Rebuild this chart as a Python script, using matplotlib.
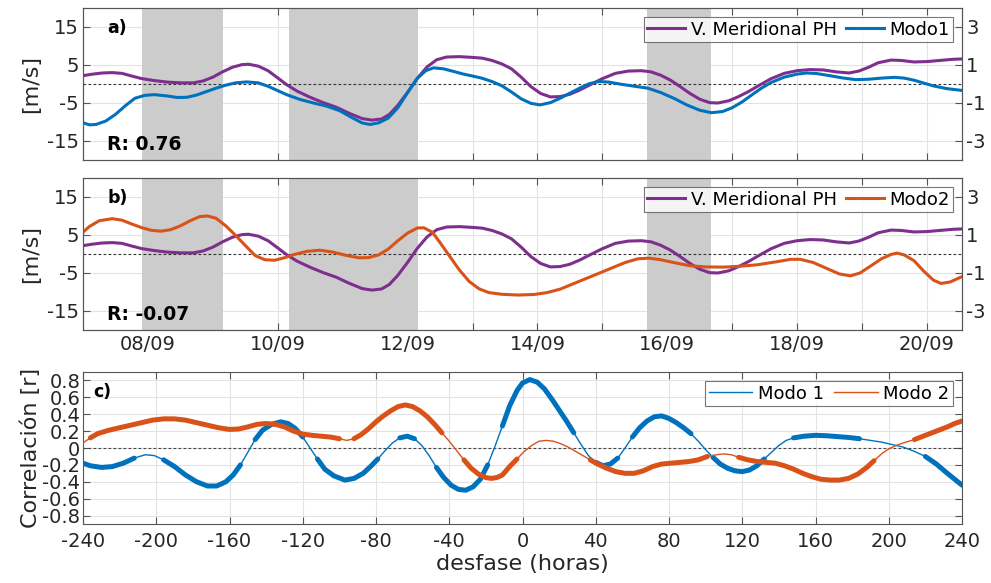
import matplotlib.pyplot as plt
import numpy as np

# --- series for panels a) and b): time in days of September ---
t_ph = [7.00, 7.15, 7.30, 7.45, 7.60, 7.75, 7.91, 8.10, 8.30, 8.50, 8.70, 8.85, 9.00, 9.15,
        9.30, 9.45, 9.55, 9.70, 9.85, 10.00, 10.13, 10.30, 10.50, 10.70, 10.90, 11.10, 11.30,
        11.45, 11.60, 11.72, 11.85, 12.00, 12.15, 12.30, 12.45, 12.60, 12.80, 13.00, 13.15,
        13.30, 13.45, 13.60, 13.75, 13.90, 14.05, 14.20, 14.35, 14.50, 14.65, 14.80, 15.00,
        15.20, 15.40, 15.60, 15.75, 15.90, 16.05, 16.20, 16.35, 16.50, 16.65, 16.78, 16.95,
        17.10, 17.25, 17.40, 17.60, 17.80, 18.00, 18.20, 18.40, 18.60, 18.80, 18.95, 19.10,
        19.25, 19.45, 19.60, 19.80, 20.00, 20.20, 20.40, 20.54]
v_ph = [2.2, 2.6, 2.9, 3.0, 2.8, 2.1, 1.4, 0.9, 0.5, 0.3, 0.3, 0.8, 1.8, 3.2,
        4.4, 5.1, 5.2, 4.7, 3.5, 1.6, -0.1, -1.9, -3.5, -4.9, -6.1, -7.7, -9.1,
        -9.5, -9.2, -8.0, -5.6, -2.2, 1.5, 4.5, 6.4, 7.1, 7.2, 7.0, 6.8,
        6.2, 5.3, 4.0, 1.8, -0.7, -2.5, -3.4, -3.3, -2.7, -1.6, -0.3, 1.4,
        2.8, 3.4, 3.5, 3.2, 2.3, 1.0, -0.7, -2.5, -4.0, -4.9, -5.0, -4.4,
        -3.3, -2.0, -0.5, 1.4, 2.8, 3.5, 3.8, 3.7, 3.2, 2.9, 3.4, 4.4,
        5.6, 6.3, 6.2, 5.8, 5.9, 6.2, 6.5, 6.6]

t_m1 = [7.00, 7.10, 7.20, 7.35, 7.50, 7.65, 7.80, 7.95, 8.10, 8.30, 8.45, 8.60, 8.75, 8.90,
        9.05, 9.20, 9.35, 9.52, 9.70, 9.85, 10.00, 10.15, 10.35, 10.55, 10.75, 10.95, 11.15,
        11.30, 11.42, 11.55, 11.70, 11.85, 12.00, 12.15, 12.28, 12.40, 12.55, 12.70, 12.85,
        13.00, 13.15, 13.30, 13.45, 13.60, 13.75, 13.90, 14.04, 14.20, 14.35, 14.50, 14.65,
        14.80, 14.95, 15.10, 15.30, 15.50, 15.70, 15.90, 16.10, 16.30, 16.50, 16.68, 16.85,
        17.00, 17.15, 17.30, 17.45, 17.60, 17.80, 18.00, 18.15, 18.30, 18.50, 18.70, 18.90,
        19.10, 19.30, 19.50, 19.65, 19.80, 19.95, 20.10, 20.30, 20.54]
v_m1 = [-2.04, -2.15, -2.13, -1.95, -1.60, -1.15, -0.75, -0.60, -0.56, -0.63, -0.71, -0.70,
        -0.58, -0.40, -0.22, -0.06, 0.06, 0.11, 0.06, -0.12, -0.35, -0.58, -0.82, -1.00,
        -1.16, -1.40, -1.78, -2.05, -2.13, -2.05, -1.80, -1.25, -0.45, 0.30, 0.70, 0.85,
        0.80, 0.67, 0.53, 0.42, 0.30, 0.13, -0.09, -0.42, -0.78, -1.02, -1.10, -0.98,
        -0.75, -0.48, -0.22, 0.02, 0.13, 0.10, -0.02, -0.12, -0.22, -0.45, -0.75, -1.10,
        -1.38, -1.51, -1.45, -1.25, -0.95, -0.58, -0.22, 0.08, 0.36, 0.52, 0.58, 0.55,
        0.44, 0.32, 0.23, 0.25, 0.31, 0.35, 0.31, 0.20, 0.05, -0.10, -0.24, -0.34]

t_m2 = [7.00, 7.10, 7.25, 7.45, 7.60, 7.75, 7.91, 8.05, 8.20, 8.35, 8.50, 8.65, 8.80, 8.92,
        9.05, 9.20, 9.35, 9.50, 9.65, 9.80, 9.95, 10.10, 10.25, 10.45, 10.65, 10.85, 11.05,
        11.25, 11.40, 11.55, 11.70, 11.85, 12.00, 12.15, 12.25, 12.38, 12.50, 12.65, 12.80,
        12.95, 13.10, 13.25, 13.45, 13.70, 13.95, 14.15, 14.35, 14.60, 14.85, 15.10, 15.35,
        15.55, 15.72, 15.90, 16.10, 16.35, 16.60, 16.86, 17.10, 17.38, 17.70, 17.90, 18.05,
        18.25, 18.45, 18.65, 18.82, 18.97, 19.12, 19.30, 19.45, 19.54, 19.65, 19.80, 19.95,
        20.10, 20.22, 20.36, 20.54]
v_m2 = [1.15, 1.45, 1.75, 1.86, 1.78, 1.58, 1.38, 1.25, 1.20, 1.28, 1.48, 1.75, 1.97, 2.00,
        1.88, 1.48, 0.98, 0.45, -0.08, -0.30, -0.33, -0.20, -0.03, 0.14, 0.20, 0.10, -0.07,
        -0.20, -0.19, -0.05, 0.25, 0.70, 1.10, 1.37, 1.38, 1.15, 0.60, -0.13, -0.85,
        -1.45, -1.83, -2.03, -2.12, -2.16, -2.13, -2.03, -1.85, -1.50, -1.15, -0.80, -0.45,
        -0.25, -0.22, -0.30, -0.45, -0.62, -0.68, -0.69, -0.65, -0.57, -0.40, -0.28, -0.28,
        -0.45, -0.75, -1.05, -1.15, -1.00, -0.66, -0.25, -0.02, 0.05, -0.05, -0.35, -0.90,
        -1.38, -1.55, -1.47, -1.19]

shade = [(7.91, 9.16), (10.18, 12.16), (15.69, 16.67)]
R_a = "R: 0.76"
R_b = "R: -0.07"

# --- panel c): lagged correlation ---
lag1 = [-240, -236, -230, -224, -218, -212, -206, -201, -196, -190, -184, -178, -172, -167,
        -162, -158, -154, -150, -146, -142, -137, -132, -128, -124, -120, -116, -112, -108,
        -103, -97, -92, -87, -83, -79, -75, -71, -67, -63, -59, -55, -51, -47, -43, -39, -35,
        -31, -27, -23, -19, -15, -11, -7, -3, 0, 4, 8, 12, 16, 20, 24, 28, 32, 36, 40, 44, 48,
        52, 56, 60, 64, 68, 72, 76, 80, 84, 88, 92, 96, 100, 104, 108, 112, 116, 120, 124, 128,
        132, 136, 140, 144, 148, 154, 160, 166, 172, 178, 184, 190, 196, 202, 208, 214, 220,
        226, 232, 236, 240]
r1 = [-0.18, -0.21, -0.23, -0.22, -0.18, -0.12, -0.08, -0.09, -0.14, -0.22, -0.32, -0.40, -0.45, -0.45,
      -0.40, -0.32, -0.20, -0.05, 0.10, 0.21, 0.28, 0.31, 0.29, 0.23, 0.13, 0.00, -0.13, -0.25,
      -0.33, -0.38, -0.36, -0.30, -0.22, -0.13, -0.03, 0.06, 0.12, 0.14, 0.11, 0.03, -0.09, -0.23, -0.35, -0.44, -0.49,
      -0.50, -0.46, -0.37, -0.20, 0.02, 0.26, 0.50, 0.68, 0.77, 0.81, 0.78, 0.70, 0.58, 0.45, 0.32, 0.18, 0.04, -0.09, -0.17, -0.21, -0.19,
      -0.12, 0.00, 0.13, 0.24, 0.32, 0.37, 0.38, 0.35, 0.30, 0.24, 0.17, 0.08, -0.02, -0.11, -0.19, -0.24, -0.27, -0.28, -0.26, -0.21,
      -0.13, -0.05, 0.03, 0.09, 0.12, 0.14, 0.15, 0.145, 0.135, 0.125, 0.11, 0.09, 0.07, 0.04, 0.01, -0.04, -0.10,
      -0.19, -0.30, -0.37, -0.44]

lag2 = [-240, -236, -232, -226, -220, -214, -208, -202, -196, -190, -184, -178, -172, -166,
        -160, -155, -150, -145, -140, -135, -130, -125, -120, -115, -110, -105, -100, -96, -92,
        -88, -84, -80, -76, -72, -68, -64, -60, -56, -52, -48, -44, -40, -36, -32, -28, -24,
        -20, -17, -14, -11, -7, -3, 1, 5, 9, 13, 17, 21, 25, 29, 33, 37, 41, 46, 51, 56, 61,
        66, 71, 76, 81, 86, 91, 96, 101, 106, 110, 114, 118, 123, 128, 133, 138, 143, 148, 153,
        158, 163, 168, 173, 178, 183, 188, 192, 196, 200, 204, 208, 214, 220, 226, 232, 236, 240]
r2 = [0.06, 0.12, 0.17, 0.21, 0.24, 0.27, 0.30, 0.33, 0.345, 0.345, 0.33, 0.30, 0.27, 0.24,
      0.22, 0.225, 0.25, 0.28, 0.29, 0.28, 0.25, 0.20, 0.165, 0.15, 0.14, 0.13, 0.11, 0.09, 0.11,
      0.16, 0.23, 0.31, 0.38, 0.44, 0.49, 0.51, 0.49, 0.44, 0.37, 0.28, 0.18, 0.08, -0.03, -0.14, -0.24, -0.31,
      -0.35, -0.36, -0.35, -0.32, -0.22, -0.13, -0.04, 0.03, 0.08, 0.09, 0.08, 0.05, 0.01, -0.04, -0.09, -0.14, -0.19, -0.24, -0.28, -0.30, -0.30,
      -0.27, -0.22, -0.19, -0.18, -0.17, -0.16, -0.14, -0.10, -0.08, -0.07, -0.08, -0.11, -0.14, -0.16, -0.17, -0.18, -0.21, -0.25, -0.30,
      -0.34, -0.37, -0.38, -0.38, -0.36, -0.31, -0.23, -0.15, -0.07, -0.01, 0.03, 0.06, 0.10, 0.15, 0.20, 0.25, 0.29, 0.32]

purple = "#7E2F8E"
blue = "#0072BD"
orange = "#D95319"
txt = "#262626"

plt.rcParams["font.family"] = "DejaVu Sans"
plt.rcParams["axes.unicode_minus"] = False
plt.rcParams["axes.edgecolor"] = "#555555"
plt.rcParams["xtick.color"] = "#555555"
plt.rcParams["ytick.color"] = "#555555"
plt.rcParams["xtick.labelcolor"] = txt
plt.rcParams["ytick.labelcolor"] = txt

fig = plt.figure(figsize=(9.91, 5.83), dpi=100)
W, H = 991, 583


def box(l, t, r, b):
    return [l / W, 1 - b / H, (r - l) / W, (b - t) / H]


day_ticks = list(range(8, 21))
day_labels = ["%02d/09" % d if d % 2 == 0 else "" for d in day_ticks]


def time_panel(rect, mode_t, mode_v, mode_col, mode_name, tag, rtext, show_labels):
    ax = fig.add_axes(rect)
    ax.set_axisbelow(True)
    for s0, s1 in shade:
        ax.axvspan(s0, s1, color="#cccccc", lw=0, zorder=1)
    ax.axhline(0, color="#333333", ls=(0, (2.5, 2)), lw=0.8, zorder=2)
    l1, = ax.plot(t_ph, v_ph, color=purple, lw=2.2, zorder=3, label="V. Meridional PH")
    ax.set_xlim(7.0, 20.54)
    ax.set_ylim(-20, 20)
    ax.set_yticks([-15, -5, 5, 15])
    ax.set_xticks(day_ticks)
    ax.set_xticklabels(day_labels if show_labels else [])
    ax.grid(True, color="#e3e3e3", lw=0.8)
    ax.tick_params(direction="in", top=True, labelsize=14, length=5)
    ax.tick_params(axis="y", pad=3)
    ax.set_ylabel("[m/s]", fontsize=16, color=txt, labelpad=4)
    ax.text(0.028, 0.93, tag, transform=ax.transAxes, fontsize=12.5, fontweight="bold",
            va="top", color="black", zorder=5)
    ax.text(0.027, 0.04, rtext, transform=ax.transAxes, fontsize=13.5, fontweight="bold",
            va="bottom", color="black", zorder=5)

    ax2 = ax.twinx()
    l2, = ax2.plot(mode_t, mode_v, color=mode_col, lw=2.2, label=mode_name)
    ax2.set_ylim(-4, 4)
    ax2.set_yticks([-3, -1, 1, 3])
    ax2.tick_params(direction="in", labelsize=14, length=5, pad=3)
    leg = ax2.legend(handles=[l1, l2], loc="upper right", ncol=2, fontsize=13,
                     frameon=True, fancybox=False, handlelength=2.1, handletextpad=0.3,
                     columnspacing=0.5, borderpad=0.2, borderaxespad=0.5)
    leg.get_frame().set_edgecolor("#555555")
    leg.get_frame().set_linewidth(0.8)
    return ax


time_panel(box(83, 8, 962, 160), t_m1, v_m1, blue, "Modo1", "a)", R_a, False)
time_panel(box(83, 178, 962, 330), t_m2, v_m2, orange, "Modo2", "b)", R_b, True)

# --- panel c ---
axc = fig.add_axes(box(83, 372, 962, 524))
axc.set_axisbelow(True)
axc.axhline(0, color="#444444", ls=(0, (2.5, 2)), lw=0.8, zorder=2)
for lag, r, col, name in [(lag1, r1, blue, "Modo 1"), (lag2, r2, orange, "Modo 2")]:
    lag = np.array(lag)
    r = np.array(r)
    axc.plot(lag, r, color=col, lw=1.0, label=name, zorder=3)
    # thick where the correlation is significant
    strong = np.where(np.abs(r) >= 0.1, r, np.nan)
    axc.plot(lag, strong, color=col, lw=3.6, zorder=3, solid_capstyle="round",
             solid_joinstyle="round")
axc.set_xlim(-240, 240)
axc.set_ylim(-0.9, 0.9)
axc.set_xticks(np.arange(-240, 241, 40))
yt = np.round(np.arange(-0.8, 0.81, 0.2), 1)
axc.set_yticks(yt)
axc.set_yticklabels(["0" if v == 0 else ("%.1f" % v) for v in yt])
axc.grid(True, color="#e3e3e3", lw=0.8)
axc.tick_params(direction="in", top=True, right=True, labelsize=14, length=5, pad=6)
axc.tick_params(axis="y", pad=2)
axc.set_xlabel("desfase (horas)", fontsize=16, color=txt, labelpad=2)
axc.set_ylabel("Correlación [r]", fontsize=16, color=txt, labelpad=1)
axc.text(0.012, 0.93, "c)", transform=axc.transAxes, fontsize=12.5, fontweight="bold",
         va="top", color="black")
legc = axc.legend(loc="upper right", ncol=2, fontsize=13, frameon=True, fancybox=False,
                  handlelength=2.4, handletextpad=0.3, columnspacing=0.6, borderpad=0.2,
                  borderaxespad=0.5)
legc.get_frame().set_edgecolor("#555555")
legc.get_frame().set_linewidth(0.8)

fig.savefig("out.png", dpi=100)
